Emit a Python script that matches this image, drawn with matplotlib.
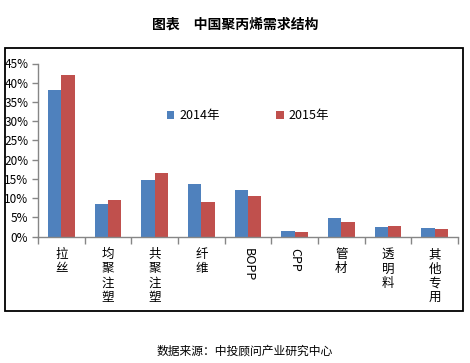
import numpy as np
import matplotlib.pyplot as plt
from matplotlib.patches import Rectangle
import matplotlib.ticker as mticker

plt.rcParams['font.family'] = ['Noto Sans CJK SC', 'DejaVu Sans']

# 中国聚丙烯需求结构 (share of demand)
categories = ['拉丝', '均聚注塑', '共聚注塑', '纤维', 'BOPP', 'CPP', '管材', '透明料', '其他专用']
share_2014 = [0.380, 0.086, 0.148, 0.137, 0.121, 0.016, 0.049, 0.025, 0.023]
share_2015 = [0.420, 0.096, 0.166, 0.091, 0.105, 0.013, 0.038, 0.028, 0.020]
series_names = ['2014年', '2015年']
colors = ['#4F81BD', '#C0504D']

W, H = 470, 363
fig = plt.figure(figsize=(W / 100, H / 100), dpi=100)

# outer frame of the chart area
fig.patches.append(Rectangle((5 / W, 1 - 311 / H), 458 / W, 263 / H,
                             transform=fig.transFigure, fill=False,
                             edgecolor='black', linewidth=1.3))

fig.text(0.5, 1 - 25 / H, '图表　中国聚丙烯需求结构', ha='center', va='center',
         fontsize=10, fontweight='bold')
fig.text(245 / W, 1 - 351 / H, '数据来源：中投顾问产业研究中心', ha='center', va='center',
         fontsize=8.5)

ax = fig.add_axes([38 / W, 1 - 236.7 / H, 420 / W, 173.2 / H])

x = np.arange(len(categories))
bw = 0.285
ax.bar(x - bw / 2, share_2014, bw, color=colors[0], label=series_names[0])
ax.bar(x + bw / 2, share_2015, bw, color=colors[1], label=series_names[1])

ax.set_xlim(-0.5, len(categories) - 0.5)
ax.set_ylim(0, 0.45)
ax.yaxis.set_major_locator(mticker.MultipleLocator(0.05))
ax.yaxis.set_major_formatter(mticker.FuncFormatter(lambda v, p: f'{v * 100:.0f}%'))

for s in ['top', 'right']:
    ax.spines[s].set_visible(False)
for s in ['left', 'bottom']:
    ax.spines[s].set_color('#868686')
    ax.spines[s].set_linewidth(1.0)

ax.set_xticks(np.arange(len(categories) + 1) - 0.5)
ax.set_xticklabels([])
ax.tick_params(axis='x', length=5, color='#868686', width=1.0)
ax.tick_params(axis='y', length=4, color='#868686', width=1.0, labelsize=8.5, pad=3)

# vertical category labels
for i, c in enumerate(categories):
    if c.isascii():
        ax.text(i, -0.065, c, rotation=270, ha='center', va='top', fontsize=9,
                transform=ax.get_xaxis_transform())
    else:
        ax.text(i, -0.065, '\n'.join(c), ha='center', va='top', fontsize=9,
                linespacing=1.15, transform=ax.get_xaxis_transform())

ax.legend(loc='center', bbox_to_anchor=(0.5, 0.70), ncol=2, frameon=False,
          fontsize=9, handlelength=0.6, handleheight=0.6, handletextpad=0.4,
          columnspacing=4.5)

fig.savefig('out.png', dpi=100)
